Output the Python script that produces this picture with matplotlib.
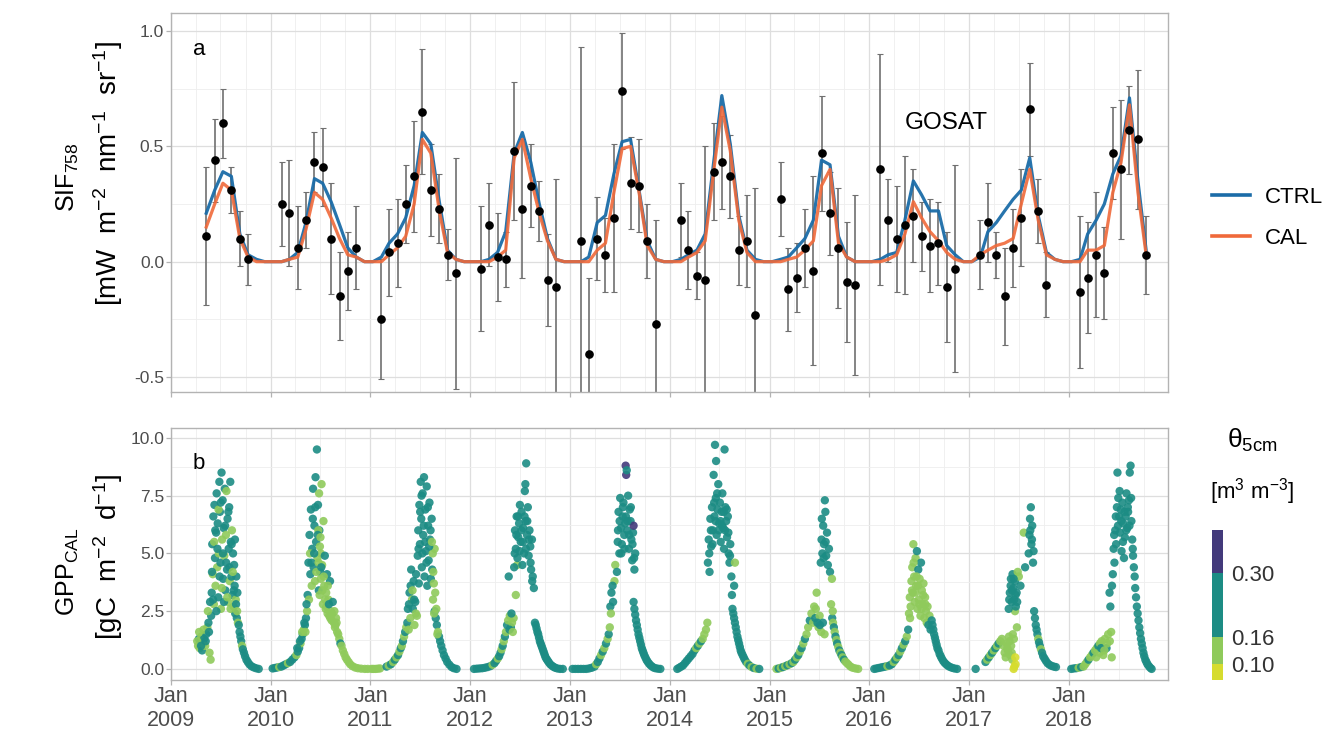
import numpy as np
import matplotlib
matplotlib.use("Agg")
import matplotlib.pyplot as plt
import matplotlib.dates as mdates
from matplotlib.colors import ListedColormap, BoundaryNorm
from matplotlib.cm import ScalarMappable
from matplotlib.lines import Line2D
from datetime import date, timedelta

plt.rcParams['font.family'] = ['Liberation Sans', 'DejaVu Sans']
plt.rcParams['mathtext.fontset'] = 'custom'
plt.rcParams['mathtext.rm'] = 'Liberation Sans'
plt.rcParams['mathtext.it'] = 'Liberation Sans:italic'
plt.rcParams['axes.unicode_minus'] = False

# ---- panel a: monthly SIF (model runs start May 2009, month index 4) ----
first_month = 4
ctrl = [0.21, 0.31, 0.39, 0.37, 0.12, 0.03, 0.01, 0.00,
        0.00, 0.00, 0.01, 0.04, 0.17, 0.36, 0.34, 0.26, 0.16, 0.06, 0.02, 0.00,
        0.00, 0.02, 0.08, 0.12, 0.19, 0.33, 0.56, 0.51, 0.26, 0.05, 0.01, 0.00,
        0.00, 0.00, 0.01, 0.04, 0.13, 0.47, 0.56, 0.43, 0.25, 0.10, 0.01, 0.00,
        0.00, 0.00, 0.02, 0.17, 0.20, 0.38, 0.52, 0.53, 0.31, 0.09, 0.01, 0.00,
        0.00, 0.01, 0.03, 0.05, 0.12, 0.43, 0.72, 0.51, 0.20, 0.05, 0.01, 0.00,
        0.00, 0.01, 0.02, 0.06, 0.10, 0.18, 0.44, 0.42, 0.11, 0.02, 0.00, 0.00,
        0.00, 0.01, 0.03, 0.04, 0.18, 0.35, 0.29, 0.22, 0.22, 0.07, 0.03, 0.00,
        0.00, 0.02, 0.13, 0.17, 0.22, 0.27, 0.31, 0.45, 0.20, 0.04, 0.01, 0.00,
        0.00, 0.01, 0.12, 0.18, 0.25, 0.38, 0.46, 0.71, 0.35, 0.05]
cal = [0.15, 0.25, 0.34, 0.31, 0.10, 0.02, 0.00, 0.00,
       0.00, 0.00, 0.01, 0.02, 0.14, 0.30, 0.27, 0.19, 0.10, 0.03, 0.02, 0.00,
       0.00, 0.00, 0.03, 0.06, 0.11, 0.25, 0.53, 0.47, 0.22, 0.04, 0.01, 0.00,
       0.00, 0.00, 0.00, 0.02, 0.05, 0.45, 0.53, 0.36, 0.21, 0.09, 0.01, 0.00,
       0.00, 0.00, 0.00, 0.05, 0.08, 0.30, 0.49, 0.50, 0.30, 0.07, 0.01, 0.00,
       0.00, 0.00, 0.02, 0.04, 0.09, 0.39, 0.67, 0.48, 0.18, 0.04, 0.00, 0.00,
       0.00, 0.00, 0.01, 0.02, 0.05, 0.09, 0.33, 0.40, 0.08, 0.02, 0.00, 0.00,
       0.00, 0.00, 0.01, 0.03, 0.12, 0.26, 0.19, 0.13, 0.09, 0.04, 0.01, 0.00,
       0.00, 0.03, 0.05, 0.07, 0.08, 0.10, 0.25, 0.40, 0.18, 0.03, 0.01, 0.00,
       0.00, 0.00, 0.05, 0.05, 0.07, 0.30, 0.43, 0.68, 0.30, 0.03]

# GOSAT retrievals: month index since Jan 2009, mean, standard error
gosat_month = [4, 5, 6, 7, 8, 9,
               13, 14, 15, 16, 17, 18, 19, 20, 21, 22,
               25, 26, 27, 28, 29, 30, 31, 32, 33, 34,
               37, 38, 39, 40, 41, 42, 43, 44, 45, 46,
               49, 50, 51, 52, 53, 54, 55, 56, 57, 58,
               61, 62, 63, 64, 65, 66, 67, 68, 69, 70,
               73, 74, 75, 76, 77, 78, 79, 80, 81, 82,
               85, 86, 87, 88, 89, 90, 91, 92, 93, 94,
               97, 98, 99, 100, 101, 102, 103, 104, 105,
               109, 110, 111, 112, 113, 114, 115, 116, 117]
gosat_sif = [0.11, 0.44, 0.60, 0.31, 0.10, 0.01,
             0.25, 0.21, 0.06, 0.18, 0.43, 0.41, 0.10, -0.15, -0.04, 0.06,
             -0.25, 0.04, 0.08, 0.25, 0.37, 0.65, 0.31, 0.23, 0.03, -0.05,
             -0.03, 0.16, 0.02, 0.01, 0.48, 0.23, 0.33, 0.22, -0.08, -0.11,
             0.09, -0.40, 0.10, 0.03, 0.19, 0.74, 0.34, 0.33, 0.09, -0.27,
             0.18, 0.05, -0.06, -0.08, 0.39, 0.43, 0.37, 0.05, 0.09, -0.23,
             0.27, -0.12, -0.07, 0.06, -0.04, 0.47, 0.21, 0.06, -0.09, -0.10,
             0.40, 0.18, 0.10, 0.16, 0.20, 0.11, 0.07, 0.08, -0.11, -0.03,
             0.03, 0.17, 0.03, -0.15, 0.06, 0.19, 0.66, 0.22, -0.10,
             -0.13, -0.07, 0.03, -0.05, 0.47, 0.40, 0.57, 0.53, 0.03]
gosat_err = [0.30, 0.18, 0.15, 0.10, 0.12, 0.11,
             0.18, 0.23, 0.18, 0.12, 0.13, 0.17, 0.24, 0.19, 0.17, 0.18,
             0.26, 0.19, 0.19, 0.17, 0.24, 0.27, 0.20, 0.15, 0.11, 0.50,
             0.27, 0.18, 0.19, 0.12, 0.30, 0.30, 0.18, 0.13, 0.20, 0.47,
             0.84, 0.33, 0.18, 0.16, 0.32, 0.25, 0.20, 0.20, 0.16, 0.45,
             0.16, 0.17, 0.10, 0.58, 0.21, 0.20, 0.18, 0.15, 0.20, 0.55,
             0.16, 0.18, 0.15, 0.17, 0.41, 0.25, 0.18, 0.26, 0.26, 0.39,
             0.50, 0.18, 0.23, 0.30, 0.20, 0.15, 0.20, 0.18, 0.24, 0.45,
             0.15, 0.17, 0.10, 0.21, 0.17, 0.21, 0.20, 0.14, 0.14,
             0.33, 0.24, 0.27, 0.20, 0.20, 0.30, 0.19, 0.30, 0.17]

# ---- panel b: daily GPP (day of year, gC m-2 d-1, soil moisture m3 m-3) ----
Y, G, T, P = 0.08, 0.13, 0.22, 0.33

gpp_2009 = [(100,1.0,G),(103,1.3,T),(106,0.9,G),(109,1.2,T),(112,1.4,G),(115,0.8,T),(118,1.1,G),
    (122,1.3,T),(126,1.0,G),(130,1.5,T),(134,1.8,G),(138,2.0,T),(142,0.7,G),(146,0.4,G),(148,2.3,T),
    (150,3.3,T),(152,5.4,T),(154,4.1,G),(156,6.6,T),(158,2.8,G),(160,7.1,T),(162,4.8,T),(164,3.6,G),
    (166,5.9,T),(168,7.6,T),(170,4.4,G),(172,6.3,T),(174,3.1,T),(176,5.0,G),(178,8.1,T),(180,6.8,T),
    (182,4.6,T),(184,2.6,G),(186,8.5,T),(188,5.6,G),(190,7.3,T),(192,3.9,T),(194,6.1,T),(196,4.9,G),
    (198,7.8,T),(200,3.4,T),(202,5.8,G),(204,7.7,G),(206,4.3,T),(208,6.5,T),(210,2.9,G),(212,5.2,T),
    (214,7.0,T),(216,3.8,G),(218,8.1,T),(220,5.5,T),(222,4.0,T),(224,6.0,G),(226,3.2,T),(228,5.0,T),
    (230,2.7,G),(232,4.5,T),(234,3.6,T),(236,2.4,T),(238,3.0,G),(240,4.0,T),(242,2.2,T),(244,3.3,T),
    (246,2.0,G),(249,1.9,T),(252,1.6,T),(255,1.4,T),(258,1.2,T),(261,1.0,G),(264,0.85,T),(268,0.7,T),
    (272,0.55,T),(277,0.4,T),(282,0.3,T),(288,0.2,T),(295,0.12,T),(303,0.07,T),(312,0.03,T),(322,0.0,T),
    (151,4.2,T),(155,3.0,T),(159,5.5,G),(163,6.0,T),(167,2.5,T),(171,5.2,T),(175,6.9,G),(179,4.0,T),
    (183,7.2,T),(187,3.5,G),(191,5.0,T),(195,2.9,T),(199,6.2,T),(203,4.6,T),(207,3.1,G),(211,6.8,T),
    (215,4.4,T),(219,2.6,G),(223,5.4,T),(227,4.2,G),(231,3.4,T),(235,5.6,T),(239,2.8,T),(243,2.5,G),
    (97,1.2,G),(104,1.6,G),(111,1.0,T),(120,1.7,G),(128,1.2,T),(136,2.5,G),(140,1.6,T),(144,2.9,T)]
gpp_2010 = [(8,0.02,T),(16,0.04,T),(24,0.06,T),(32,0.08,G),(40,0.1,T),(48,0.15,T),(56,0.2,T),
    (64,0.25,G),(72,0.3,T),(80,0.4,T),(88,0.5,T),(95,0.6,G),(100,0.75,T),(105,0.9,T),(110,1.1,G),
    (114,1.3,T),(118,1.5,T),(122,1.7,G),(126,1.9,T),(130,2.2,T),(134,2.5,G),
    (136,3.2,T),(139,4.6,T),(141,3.0,G),(143,5.8,T),(146,4.1,T),(148,6.9,T),(151,3.6,G),(153,5.2,T),
    (156,7.8,T),(158,4.4,T),(161,6.2,T),(163,3.8,G),(165,8.3,T),(167,5.5,T),(170,9.5,T),(172,4.8,G),
    (174,7.1,T),(177,3.4,T),(179,6.0,T),(182,4.2,T),(184,5.0,G),
    (175,6.0,G),(178,7.6,G),(181,5.3,G),(184,3.9,G),(187,8.0,G),(189,4.5,G),(192,2.8,G),(194,6.4,G),
    (197,3.6,G),(199,4.9,T),(202,2.6,G),(204,3.3,G),(207,4.1,T),(209,2.4,G),(212,3.0,G),(215,2.3,G),
    (218,3.8,T),(221,2.5,G),(224,2.1,G),(228,2.9,T),(232,2.0,G),(236,1.8,G),(240,2.2,G),(244,1.6,G),
    (248,1.5,G),(252,1.3,G),(256,1.1,T),(260,1.0,G),(265,0.8,G),(270,0.65,G),(275,0.5,G),(280,0.4,G),
    (286,0.3,G),(292,0.2,G),(300,0.12,G),(310,0.06,G),(320,0.03,G),(332,0.01,G),(345,0.0,G),(356,0.0,G),
    (145,5.0,G),(150,4.6,T),(155,6.5,T),(160,5.0,T),(164,7.0,T),(168,4.2,G),(173,5.8,T),(176,4.6,G),
    (180,3.2,G),(183,5.7,G),(186,4.4,T),(190,3.4,G),(195,4.0,G),(200,3.0,G),(205,2.7,G),(210,3.6,G),
    (214,2.8,T),(219,2.2,G),(226,2.4,G),(234,2.5,G),(238,1.9,G),(242,2.0,G),
    (98,0.9,T),(108,1.2,T),(116,1.6,G),(124,2.0,T),(128,1.6,G),(132,2.8,T)]
gpp_2011 = [(5,0.0,G),(12,0.0,G),(20,0.0,G),(28,0.01,G),(36,0.02,G),(60,0.1,T),(68,0.15,G),
    (76,0.2,T),(84,0.3,G),(90,0.4,T),(96,0.5,G),(102,0.6,T),(107,0.75,G),(112,0.9,T),(116,1.0,G),
    (120,1.2,T),(124,1.4,G),(128,1.6,T),(132,1.8,G),(136,2.0,T),
    (138,2.6,T),(141,1.7,G),(144,3.3,T),(147,2.2,G),(150,4.3,T),(153,3.0,G),(156,2.6,T),(159,3.8,T),
    (162,1.9,G),(165,2.9,T),(168,4.1,T),(171,2.3,G),
    (174,4.9,T),(176,6.0,T),(178,3.7,T),(180,7.1,T),(182,5.4,T),(185,8.1,T),(187,6.5,T),(189,4.4,T),
    (192,7.6,T),(194,5.8,T),(197,8.3,T),(199,4.0,T),(202,6.9,T),(204,5.1,T),(207,7.9,T),(209,3.6,T),
    (212,6.2,T),(214,4.7,T),(217,7.2,T),(219,5.6,T),(222,3.9,T),(225,6.5,T),(227,4.3,T),(229,5.0,G),
    (231,4.2,G),(233,3.7,G),(236,5.2,G),(238,3.3,G),
    (236,2.5,T),(240,2.2,T),(244,1.9,T),(248,1.6,G),(252,1.4,T),(256,1.2,T),(260,1.0,T),(265,0.8,T),
    (270,0.6,T),(276,0.45,T),(282,0.3,T),(290,0.18,T),(298,0.08,T),(306,0.03,T),(316,0.0,T),
    (142,2.8,T),(148,3.6,T),(155,3.4,G),(161,3.0,T),(167,2.4,G),(177,5.2,T),(183,6.8,T),(188,7.5,T),
    (191,5.0,T),(196,6.2,T),(201,5.5,T),(206,4.6,T),(211,7.0,T),(216,5.3,T),(221,6.0,T),(226,5.5,G),
    (230,3.0,G),(234,2.4,G),(242,2.6,G),(246,1.5,G)]
gpp_2012 = [(15,0.0,T),(25,0.01,T),(35,0.02,T),(45,0.03,T),(55,0.05,T),(65,0.08,T),(75,0.12,T),
    (83,0.18,G),(90,0.25,T),(96,0.35,T),(102,0.45,G),(107,0.55,T),(112,0.7,T),(116,0.85,G),(120,1.0,T),
    (124,1.2,G),(128,1.4,T),(132,1.6,G),(136,1.9,T),(140,2.1,G),(142,4.0,T),(146,2.3,G),(150,1.8,T),
    (154,2.0,G),(160,2.2,G),(168,3.2,G),(173,4.5,G),
    (162,4.4,T),(165,6.0,T),(168,5.2,T),(171,6.6,T),(174,4.8,T),(177,5.7,T),(180,6.3,T),(183,7.1,T),
    (186,5.5,T),(189,6.8,T),(192,4.5,T),(195,6.1,T),(198,5.0,T),(201,7.7,T),(204,6.4,T),(206,8.9,T),
    (209,5.8,T),(212,7.0,T),(215,4.9,T),(218,6.0,T),(221,5.3,T),(224,4.3,T),(227,5.6,T),(230,4.0,T),
    (234,3.5,T),
    (238,2.0,T),(241,1.9,T),(244,1.75,T),(247,1.6,T),(250,1.5,T),(253,1.35,T),(256,1.2,T),(259,1.1,T),
    (262,1.0,T),(265,0.9,T),(268,0.8,T),(271,0.7,T),(274,0.6,T),(277,0.5,T),(281,0.42,T),(285,0.35,T),
    (289,0.28,T),(294,0.2,T),(300,0.14,T),(306,0.09,T),(312,0.05,T),(320,0.02,T),(330,0.0,T),(340,0.0,T),
    (164,5.0,T),(170,5.8,T),(176,6.6,T),(182,5.1,T),(188,6.0,T),(194,5.5,T),(200,6.6,T),(205,5.2,T),
    (210,6.4,T),(216,5.6,T),(222,4.6,T),(228,3.8,T),(203,8.0,T),(145,1.7,T),(152,2.4,T),(157,1.6,G)]
gpp_2013 = [(10,0.0,T),(20,0.0,T),(30,0.0,T),(40,0.0,T),(50,0.0,T),(60,0.0,T),(70,0.02,T),
    (80,0.05,T),(90,0.1,T),(96,0.2,G),(102,0.3,T),(108,0.45,T),(114,0.6,G),(120,0.75,T),(126,0.9,G),
    (132,1.1,T),(138,1.3,G),(142,1.5,T),(146,1.8,G),(148,2.7,T),(152,3.3,T),(158,2.9,T),(163,3.8,G),
    (166,4.5,G),
    (172,4.2,T),(175,5.5,T),(178,6.8,T),(181,5.0,T),(184,7.4,T),(187,6.1,T),(190,5.4,T),(193,6.6,T),
    (196,7.2,T),(199,5.8,T),(202,6.3,T),(204,8.8,P),(206,8.4,P),(208,8.6,T),(210,6.0,T),(213,7.5,T),
    (216,5.2,T),(219,6.9,T),(222,6.4,T),(225,5.6,T),(228,4.7,T),(231,5.9,T),(233,6.2,P),(236,4.3,T),
    (239,5.0,T),
    (233,2.9,T),(236,2.6,T),(239,2.35,T),(242,2.1,T),(245,1.9,T),(248,1.7,T),(251,1.5,T),(254,1.35,T),
    (257,1.2,T),(260,1.05,T),(263,0.9,T),(266,0.8,T),(269,0.7,T),(272,0.6,T),(276,0.5,T),(280,0.4,T),
    (284,0.32,T),(289,0.24,T),(294,0.17,T),(300,0.11,T),(306,0.06,T),(313,0.03,T),(322,0.01,T),(331,0.0,T),
    (176,6.0,T),(182,6.4,T),(188,5.0,T),(194,7.0,T),(200,5.2,T),(205,6.6,T),(211,6.4,T),(217,5.8,T),
    (223,7.0,T),(229,5.4,T),(235,4.8,T),(150,2.4,G),(156,3.6,T)]
gpp_2014 = [(28,0.0,T),(35,0.05,T),(42,0.1,T),(49,0.15,T),(56,0.25,T),(63,0.35,T),(70,0.45,T),
    (77,0.55,T),(84,0.65,T),(91,0.8,T),(97,0.9,G),(103,1.0,T),(109,1.1,G),(115,1.2,T),(121,1.3,G),
    (127,1.5,G),(133,1.7,G),(138,2.0,G),
    (140,4.6,T),(143,5.6,T),(146,4.2,T),(149,6.5,T),(152,5.3,T),(155,7.0,T),(158,6.0,T),(161,8.4,T),
    (164,6.6,T),(166,9.7,T),(169,7.4,T),(172,5.8,T),(175,6.9,T),(178,8.0,T),(181,6.3,T),(184,7.2,T),
    (187,5.5,T),(190,6.8,T),(193,7.6,T),(196,6.1,T),(199,5.2,T),(201,9.5,T),(204,7.0,T),(207,6.4,T),
    (210,5.7,T),(213,6.6,T),(216,5.0,T),(219,4.6,T),(222,5.4,T),(226,4.0,T),(239,4.6,G),(236,3.6,T),
    (230,2.6,T),(233,2.4,T),(236,2.2,T),(239,2.0,T),(242,1.8,T),(245,1.6,T),(248,1.4,T),(251,1.25,T),
    (254,1.1,T),(257,0.95,T),(260,0.8,T),(263,0.7,T),(267,0.6,T),(271,0.5,T),(275,0.4,T),(280,0.3,T),
    (286,0.22,G),(292,0.15,T),(300,0.08,G),(308,0.04,T),(318,0.01,G),(328,0.0,T),
    (145,5.0,T),(151,6.0,T),(157,5.4,T),(163,7.2,T),(168,6.4,T),(174,7.6,T),(180,6.0,T),(186,6.4,T),
    (192,6.2,T),(198,6.8,T),(203,6.0,T),(209,6.9,T),(215,5.9,T),(221,4.9,T),(228,3.2,T),(170,9.0,T)]
gpp_2015 = [(26,0.0,G),(34,0.02,T),(42,0.05,G),(50,0.08,T),(58,0.12,G),(66,0.16,T),(74,0.2,G),
    (82,0.25,T),(88,0.3,G),(94,0.4,T),(100,0.5,G),(106,0.6,T),(112,0.75,G),(118,0.9,T),(124,1.1,G),
    (130,1.3,T),(136,1.5,G),(142,1.8,G),(148,2.1,T),(154,2.4,G),(160,2.0,G),(164,2.7,G),(168,2.2,T),
    (173,3.3,G),
    (188,4.6,T),(191,5.6,T),(194,5.0,T),(197,6.2,T),(200,5.4,T),(203,7.3,T),(205,6.8,T),(208,4.9,T),
    (211,5.9,T),(214,4.5,T),(218,5.2,T),(222,4.2,T),
    (180,1.8,G),(184,2.3,G),(190,1.6,G),(196,2.0,T),(202,1.5,G),(229,3.9,G),(226,2.8,G),
    (230,2.2,T),(233,2.0,G),(236,1.8,T),(239,1.6,G),(242,1.4,T),(245,1.25,G),(248,1.1,T),(252,0.95,G),
    (256,0.8,T),(260,0.7,G),(264,0.6,T),(268,0.5,G),(273,0.4,T),(278,0.32,G),(284,0.25,G),(290,0.18,G),
    (297,0.1,G),(305,0.05,G),(315,0.02,G),(325,0.0,G),
    (192,6.5,T),(199,4.8,T),(206,5.5,T),(170,2.6,G),(176,2.0,T),(185,1.9,T),(232,2.5,G)]
gpp_2016 = [(19,0.0,T),(27,0.02,T),(35,0.04,T),(43,0.06,T),(51,0.08,T),(59,0.1,T),(67,0.12,G),
    (75,0.15,T),(83,0.2,T),(90,0.3,G),(96,0.4,T),(102,0.5,G),(108,0.6,T),(114,0.75,G),(120,0.9,T),
    (126,1.05,G),(132,1.2,T),(138,1.4,G),(143,1.7,T),
    (146,2.4,G),(149,3.1,G),(152,2.7,G),(155,3.8,G),(158,4.4,G),(160,3.3,G),(162,5.4,G),(165,4.0,G),
    (167,2.9,G),(170,4.8,G),(172,3.6,G),(175,5.1,T),(177,2.6,G),(180,4.3,T),(182,3.0,G),(185,3.9,G),
    (188,2.3,G),(190,4.6,T),(193,3.4,G),(196,2.8,G),(199,3.7,G),(202,2.2,G),(205,3.1,G),(208,2.5,G),
    (211,2.0,G),(214,2.7,G),(217,1.9,T),(221,2.3,G),(225,1.7,T),
    (229,2.1,T),(232,1.9,T),(235,1.7,T),(238,1.5,T),(241,1.35,T),(244,1.2,T),(247,1.05,T),(250,0.9,T),
    (254,0.8,T),(258,0.65,T),(262,0.55,T),(266,0.45,T),(271,0.35,T),(276,0.27,T),(282,0.2,T),(288,0.14,T),
    (295,0.09,T),(303,0.05,T),(312,0.02,T),(322,0.0,T),
    (150,2.2,G),(157,3.4,G),(163,4.6,G),(169,3.3,G),(174,4.0,G),(179,3.6,G),(184,2.8,G),(192,2.6,G),
    (198,3.2,G),(206,2.8,G)]
gpp_2017 = [(24,0.0,T),(60,0.3,T),(66,0.4,G),(72,0.5,T),(78,0.6,G),(84,0.7,T),(90,0.8,G),
    (96,0.9,T),(102,1.0,G),(108,1.1,T),(114,1.2,G),(120,1.3,G),(126,1.0,G),(130,0.7,G),(134,0.5,G),
    (138,1.1,G),(142,0.8,G),(146,1.4,G),(150,0.6,G),(154,1.0,G),(158,0.4,G),(163,0.0,Y),(166,0.1,Y),
    (170,0.2,Y),(160,1.5,G),(168,2.5,G),(175,1.8,G),
    (145,2.6,T),(149,3.3,T),(153,3.9,T),(156,2.9,T),(159,4.1,T),(162,3.5,T),(165,3.0,T),(168,3.8,T),
    (171,2.7,T),(174,3.3,T),(178,4.2,G),(182,4.0,G),(188,3.6,T),(200,5.9,G),(205,4.4,T),
    (218,5.0,T),(221,5.8,T),(223,6.5,T),(226,7.0,T),(228,5.4,T),(231,6.2,T),(234,4.6,T),(236,5.1,T),
    (238,2.5,T),(241,2.2,T),(244,1.9,T),(247,1.7,T),(250,1.5,T),(253,1.3,G),(256,1.15,T),(259,1.0,T),
    (263,0.85,G),(267,0.7,T),(271,0.55,T),(276,0.45,T),(281,0.35,T),(287,0.25,T),(294,0.18,T),
    (302,0.13,T),(310,0.1,T),(318,0.08,T),
    (147,3.0,T),(152,3.6,T),(157,3.4,T),(163,3.9,T),(170,3.2,T),(176,2.9,T),(140,0.9,G),(148,1.2,G),
    (156,0.7,G),(164,1.3,G),(169,0.5,Y),(224,6.0,T),(230,5.6,T)]
gpp_2018 = [(9,0.0,T),(18,0.02,T),(27,0.03,T),(36,0.05,G),(45,0.08,T),(54,0.1,G),(60,0.2,G),
    (66,0.3,G),(72,0.4,T),(78,0.5,G),(84,0.6,G),(90,0.7,T),(96,0.8,G),(102,0.9,G),(108,1.0,T),
    (114,1.1,G),(120,1.2,G),(126,0.6,G),(132,1.3,G),(138,0.9,T),(144,1.5,G),(150,1.2,G),(155,1.6,G),
    (157,0.5,G),(149,3.3,T),(152,2.7,T),(158,3.6,T),
    (161,4.1,T),(164,5.2,T),(167,4.6,T),(170,6.0,T),(173,5.4,T),(176,7.0,T),(178,8.5,T),(181,7.4,T),
    (184,6.6,T),(187,5.9,T),(190,6.9,T),(193,5.1,T),(196,7.2,T),(199,6.3,T),(202,4.8,T),(205,5.7,T),
    (208,6.6,T),(211,7.6,T),(214,6.1,T),(217,6.8,T),(220,7.3,T),(223,8.5,T),(226,8.8,T),(229,6.4,T),
    (232,5.6,T),(235,4.9,T),(238,4.4,T),(241,4.0,T),
    (243,3.5,T),(246,3.1,T),(249,2.7,T),(252,2.4,T),(255,2.1,T),(258,1.8,T),(261,1.55,T),(264,1.3,T),
    (267,1.1,T),(270,0.9,T),(273,0.7,T),(276,0.55,T),(280,0.4,T),(284,0.3,T),(288,0.2,T),(293,0.12,T),
    (298,0.05,T),(303,0.0,T),
    (166,5.8,T),(172,6.6,T),(180,6.2,T),(186,7.7,T),(192,6.4,T),(198,5.5,T),(204,6.8,T),(210,6.0,T),
    (216,7.0,T),(222,6.2,T),(228,7.4,T),(234,5.2,T),(100,0.5,G),(112,0.7,G),(118,0.9,T),(130,0.8,G),
    (140,1.1,G)]
gpp_years = {2009: gpp_2009, 2010: gpp_2010, 2011: gpp_2011, 2012: gpp_2012, 2013: gpp_2013,
             2014: gpp_2014, 2015: gpp_2015, 2016: gpp_2016, 2017: gpp_2017, 2018: gpp_2018}

theta_bounds = [0.065, 0.10, 0.16, 0.30, 0.395]
theta_ticks = [0.10, 0.16, 0.30]
theta_colors = ['#d6dc2e', '#8fca5b', '#1c8c84', '#433a7b']


def month_date(m):
    return date(2009 + m // 12, m % 12 + 1, 10)


sif_dates = [month_date(first_month + i) for i in range(len(ctrl))]
obs_dates = [month_date(m) for m in gosat_month]

gpp_dates, gpp_vals, gpp_theta = [], [], []
for yr, pts in gpp_years.items():
    for doy, v, th in pts:
        gpp_dates.append(date(yr, 1, 1) + timedelta(days=doy - 1))
        gpp_vals.append(v)
        gpp_theta.append(th)

# ---- figure ----
W, H = 1332, 742
fig = plt.figure(figsize=(W / 100, H / 100), dpi=100)
axa = fig.add_axes([171 / W, 1 - 392 / H, 997 / W, 379 / H])
axb = fig.add_axes([171 / W, 1 - 680 / H, 997 / W, 252 / H])

border = '#b3b3b3'
for ax in (axa, axb):
    ax.set_xlim(date(2009, 1, 1), date(2018, 12, 29))
    ax.xaxis.set_major_locator(mdates.YearLocator())
    ax.xaxis.set_minor_locator(mdates.MonthLocator(bymonth=[4, 7, 10]))
    ax.grid(which='major', color='#dedede', lw=0.9)
    ax.grid(which='minor', color='#eeeeee', lw=0.6)
    ax.set_axisbelow(True)
    for s in ax.spines.values():
        s.set_color(border)
        s.set_linewidth(1.0)
    ax.tick_params(which='major', length=3.5, width=0.9, color=border,
                   labelcolor='#4d4d4d', labelsize=12.5)
    ax.tick_params(axis='y', pad=1.5)
    ax.tick_params(which='minor', length=0)

axa.tick_params(axis='x', labelbottom=False)
axb.xaxis.set_major_formatter(mdates.DateFormatter('%b\n%Y'))
axb.tick_params(axis='x', labelsize=15.5, pad=1)

# panel a
axa.set_ylim(-0.565, 1.078)
axa.set_yticks([-0.5, 0.0, 0.5, 1.0])
axa.set_yticklabels(['-0.5', '0.0', '0.5', '1.0'])
axa.set_yticks([-0.25, 0.25, 0.75], minor=True)
axa.errorbar(obs_dates, gosat_sif, yerr=gosat_err, fmt='none', ecolor='#707070',
             elinewidth=1.2, capsize=2.2, capthick=0.8, zorder=2)
axa.plot(sif_dates, ctrl, color='#1b6ca8', lw=2.3, zorder=3, alpha=0.95)
axa.plot(sif_dates, cal, color='#f0693a', lw=2.3, zorder=3, alpha=0.9)
axa.plot(obs_dates, gosat_sif, 'o', color='black', ms=5.2, zorder=4)
axa.text(0.022, 0.905, 'a', transform=axa.transAxes, fontsize=16, va='center')
axa.text(0.778, 0.71, 'GOSAT', transform=axa.transAxes, fontsize=17.5,
         ha='center', va='center')

# panel b
cmap = ListedColormap(theta_colors)
norm = BoundaryNorm(theta_bounds, cmap.N)
axb.set_ylim(-0.48, 10.43)
axb.set_yticks([0, 2.5, 5, 7.5, 10])
axb.set_yticklabels(['0.0', '2.5', '5.0', '7.5', '10.0'])
axb.set_yticks([1.25, 3.75, 6.25, 8.75], minor=True)
axb.scatter(gpp_dates, gpp_vals, c=gpp_theta, cmap=cmap, norm=norm, s=36,
            alpha=0.9, linewidths=0, zorder=3)
axb.text(0.022, 0.861, 'b', transform=axb.transAxes, fontsize=16, va='center')

# axis titles
fig.text(68 / W, 1 - 177 / H, 'SIF$_{758}$', rotation=90, ha='center', va='center', fontsize=18)
fig.text(108 / W, 1 - 173 / H, '[mW  m$^{-2}$  nm$^{-1}$  sr$^{-1}$]', rotation=90,
         ha='center', va='center', fontsize=20)
fig.text(68 / W, 1 - 572 / H, 'GPP$_{\\mathrm{CAL}}$', rotation=90, ha='center', va='center', fontsize=18)
fig.text(108 / W, 1 - 557 / H, '[gC  m$^{-2}$  d$^{-1}$]', rotation=90,
         ha='center', va='center', fontsize=20)

# legend for the model runs
handles = [Line2D([], [], color='#1b6ca8', lw=2.6), Line2D([], [], color='#f0693a', lw=2.6)]
fig.legend(handles, ['CTRL', 'CAL'], loc='center left', bbox_to_anchor=(1192 / W, 1 - 218 / H),
           frameon=False, fontsize=16, handlelength=1.7, labelspacing=0.9, handletextpad=0.7)

# soil moisture colour steps
cax = fig.add_axes([1212 / W, 1 - 680 / H, 11 / W, 150 / H])
cb = fig.colorbar(ScalarMappable(norm=norm, cmap=cmap), cax=cax, ticks=theta_ticks,
                  spacing='proportional')
cb.outline.set_visible(False)
cb.ax.minorticks_off()
cb.ax.set_yticklabels(['%.2f' % t for t in theta_ticks])
cb.ax.tick_params(length=0, labelsize=16, pad=6, labelcolor='#333333')
fig.text(1252 / W, 1 - 440 / H, 'θ$_{\\mathrm{5cm}}$', ha='center', va='center', fontsize=19)
fig.text(1252 / W, 1 - 492 / H, '[m$^{3}$ m$^{-3}$]', ha='center', va='center', fontsize=16)

fig.savefig('out.png', dpi=100)
